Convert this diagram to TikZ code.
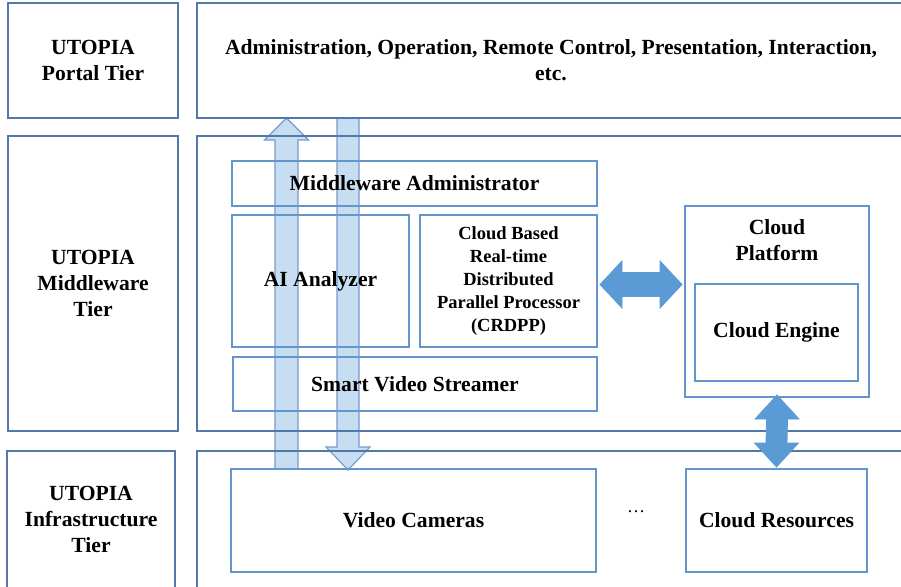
\documentclass[tikz,border=0pt]{standalone}
\usepackage{fontspec}
\setmainfont{Liberation Serif}
\usetikzlibrary{backgrounds,calc}
\definecolor{tierline}{RGB}{84,120,170}
\definecolor{boxline}{RGB}{100,150,205}
\definecolor{solidarrow}{RGB}{91,155,213}
\definecolor{paleblue}{RGB}{189,215,238}
\definecolor{paleline}{RGB}{115,155,205}
\begin{document}
\begin{tikzpicture}[x=1pt,y=-1pt,
  every node/.style={font=\fontsize{21.6}{26}\selectfont\bfseries, align=center, inner sep=0pt, outer sep=0pt},
  tierbox/.style={draw=tierline, line width=1.2pt},
  innerbox/.style={draw=boxline, line width=1.2pt},
  hollowarrow/.style={fill=paleblue, fill opacity=0.85, draw=paleline, line width=1.1pt, line join=miter},
  solidarrowstyle/.style={fill=solidarrow, draw=solidarrow, line width=0.8pt, line join=miter},
  small/.style={font=\fontsize{18.5}{23}\selectfont\bfseries}]
\useasboundingbox (0,0) rectangle (901,586);
\clip (0,0) rectangle (901,586);

% tier labels on the left
\node[tierbox, minimum width=170pt, minimum height=115pt] (tportal) at (93,60.5) {UTOPIA\\Portal Tier};
\node[tierbox, minimum width=170pt, minimum height=295pt] (tmid) at (93,283.5) {UTOPIA\\Middleware\\Tier};
\node[tierbox, minimum width=168pt, minimum height=137pt] (tinfra) at (91,519.5) {UTOPIA\\Infrastructure\\Tier};

% tier contents (boxes run off the right and bottom edges)
\node[tierbox, minimum width=708pt, minimum height=115pt] (rportal) at (551,60.5) {Administration, Operation, Remote Control, Presentation, Interaction,\\etc.};
\node[tierbox, minimum width=708pt, minimum height=295pt] (rmid) at (551,283.5) {};
\node[tierbox, minimum width=708pt, minimum height=137pt] (rinfra) at (551,519.5) {};

% middleware components
\node[innerbox, minimum width=365pt, minimum height=45pt] (madmin) at (414.5,183.5) {Middleware Administrator};
\node[innerbox, minimum width=177pt, minimum height=132pt] (ai) at (320.5,281) {AI Analyzer};
\node[innerbox, small, minimum width=177pt, minimum height=132pt] (crdpp) at (508.5,281) {Cloud Based\\Real-time\\Distributed\\Parallel Processor\\(CRDPP)};
\node[innerbox, minimum width=364pt, minimum height=54pt] (svs) at (415,384) {Smart Video Streamer};
\node[innerbox, minimum width=184pt, minimum height=191pt] (cplat) at (777,301.5) {};
\node (cplatlbl) at (777,240) {Cloud\\Platform};
\node[innerbox, minimum width=163pt, minimum height=97pt] (cengine) at (776.5,332.5) {Cloud Engine};

% infrastructure components
\node[innerbox, minimum width=365pt, minimum height=103pt] (cams) at (413.5,520.5) {Video Cameras};
\node[innerbox, minimum width=181pt, minimum height=103pt] (cres) at (776.5,520.5) {Cloud Resources};
\node[font=\fontsize{18}{22}\selectfont] (more) at (636,512) {\dots};

\begin{scope}[on background layer]
  % upward data flow from the cameras to the portal
  \coordinate (upT) at (286.5,0 |- tportal.south);
  \coordinate (upB) at (286.5,0 |- cams.north);
  \draw[hollowarrow] ([xshift=-11.5pt]upB) -- ([xshift=-11.5pt,yshift=-22pt]upT)
    -- ([xshift=-22pt,yshift=-22pt]upT) -- (upT) -- ([xshift=22pt,yshift=-22pt]upT)
    -- ([xshift=11.5pt,yshift=-22pt]upT) -- ([xshift=11.5pt]upB) -- cycle;
  % downward control flow from the portal to the cameras
  \coordinate (dnT) at (348,0 |- tportal.south);
  \coordinate (dnB) at (348,0 |- cams.north);
  \draw[hollowarrow] ([xshift=-11pt]dnT) -- ([xshift=-11pt,yshift=22pt]dnB)
    -- ([xshift=-22pt,yshift=22pt]dnB) -- ([yshift=-1pt]dnB) -- ([xshift=22pt,yshift=22pt]dnB)
    -- ([xshift=11pt,yshift=22pt]dnB) -- ([xshift=11pt]dnT) -- cycle;
\end{scope}

% CRDPP <-> Cloud Platform
\coordinate (hL) at ([xshift=3pt]crdpp.east |- 0,284.5);
\coordinate (hR) at ([xshift=-3pt]cplat.west |- 0,284.5);
\draw[solidarrowstyle] (hL) -- ([xshift=22pt,yshift=23.5pt]hL) -- ([xshift=22pt,yshift=12pt]hL)
  -- ([xshift=-22pt,yshift=12pt]hR) -- ([xshift=-22pt,yshift=23.5pt]hR) -- (hR)
  -- ([xshift=-22pt,yshift=-23.5pt]hR) -- ([xshift=-22pt,yshift=-12pt]hR)
  -- ([xshift=22pt,yshift=-12pt]hL) -- ([xshift=22pt,yshift=-23.5pt]hL) -- cycle;

% Cloud Platform <-> Cloud Resources
\coordinate (vT) at ([yshift=2pt]cplat.south);
\coordinate (vB) at ([yshift=2pt]cres.north);
\draw[solidarrowstyle] (vT) -- ([xshift=22pt,yshift=-24pt]vT) -- ([xshift=10.5pt,yshift=-24pt]vT)
  -- ([xshift=10.5pt,yshift=24pt]vB) -- ([xshift=22pt,yshift=24pt]vB) -- (vB)
  -- ([xshift=-22pt,yshift=24pt]vB) -- ([xshift=-10.5pt,yshift=24pt]vB)
  -- ([xshift=-10.5pt,yshift=-24pt]vT) -- ([xshift=-22pt,yshift=-24pt]vT) -- cycle;
\end{tikzpicture}
\end{document}
